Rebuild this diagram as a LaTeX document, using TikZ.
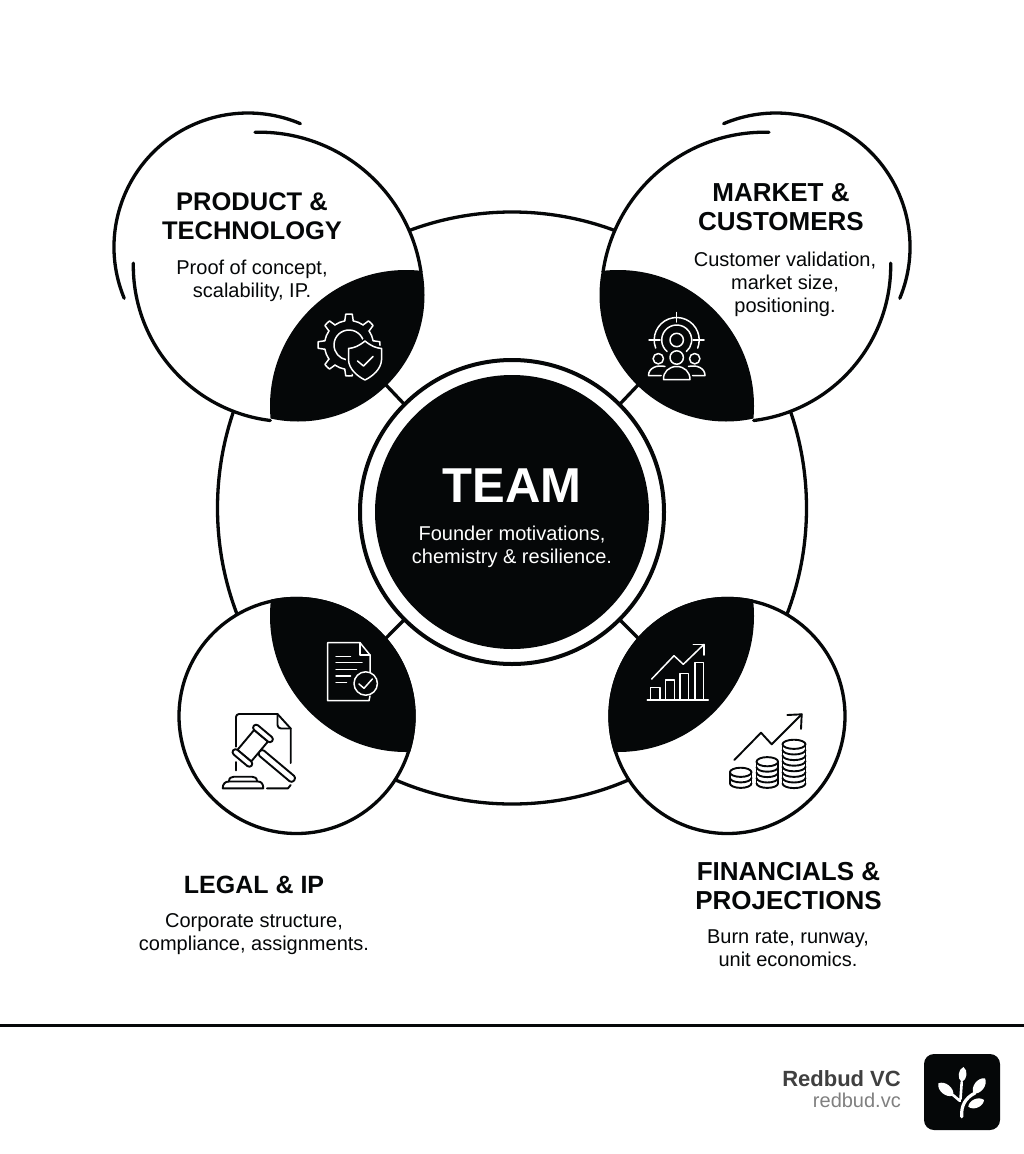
\documentclass[tikz,border=0pt]{standalone}
\usepackage{fontspec}
\setmainfont{Liberation Sans}
\definecolor{ink}{HTML}{050708}
\definecolor{logotext}{HTML}{404040}
\definecolor{logourl}{HTML}{808080}
\tikzset{
  outline/.style={draw=ink,line width=3.3,line cap=round},
  solidink/.style={fill=ink,draw=none},
  headbox/.style={text=ink,align=center,inner sep=0,font=\bfseries\fontsize{26}{29}\selectfont},
  bodybox/.style={text=ink,align=center,inner sep=0,font=\fontsize{20}{23}\selectfont},
  iconw/.style={draw=white,line width=1.5,line cap=round,line join=round},
  iconk/.style={draw=ink,line width=1.9,line cap=round,line join=round},
  disc/.style={circle,inner sep=0,outer sep=0},
}
\newcommand{\coinstack}[5]{%
  \draw[iconk] (#1-#3,#2) arc[start angle=180,end angle=540,x radius=#3,y radius=4.6];
  \foreach \i in {1,...,#4}{
    \draw[iconk] (#1-#3,#2+\i*#5) arc[start angle=180,end angle=0,x radius=#3,y radius=4.6];
  }
  \draw[iconk] (#1-#3,#2) -- (#1-#3,#2+#4*#5);
  \draw[iconk] (#1+#3,#2) -- (#1+#3,#2+#4*#5);
}
\newcommand{\leafshape}[4]{\fill[white] (#1,#2) to[bend left=62] (#3,#4) to[bend left=62] (#1,#2);}
\newcommand{\topbody}{%
  \fill[white] (259.3,295.6) ++(268.5:163.4) arc[start angle=268.5,end angle=351.7,radius=163.4] -- (424,300) -- (388,387) -- (327,422) -- (270,420.6) arc[start angle=97,end angle=180.9,radius=156] -- cycle;
  \draw[outline] (259.3,295.6) ++(268.5:163.4) arc[start angle=268.5,end angle=351.7,radius=163.4];
  \draw[outline] (289.3,265.65) ++(180.9:156) arc[start angle=180.9,end angle=97,radius=156];
  \draw[outline] (248,247) ++(157.5:134) arc[start angle=157.5,end angle=293,radius=134];
  \begin{scope}\clip (406,406) circle[radius=136];\fill[ink] (298,295) circle[radius=126.5];\end{scope}
}
\begin{document}
\begin{tikzpicture}[x=1pt,y=-1pt]
\useasboundingbox (0,0) rectangle (1024,1154);
\fill[white] (0,0) rectangle (1024,1154);

% large ring
\draw[outline] (512,508) ellipse[x radius=294.5,y radius=296];

% top circle bodies, outlines and lenses
\topbody
\begin{scope}[shift={(1024,0)},xscale=-1]\topbody\end{scope}

% lower circles
\node[disc,fill=white,draw=ink,line width=3.3,minimum size=235pt] (legal) at (296.5,716) {};
\node[disc,fill=white,draw=ink,line width=3.3,minimum size=235pt] (fin) at (727.5,716) {};

% team ring and disc
\node[disc,fill=white,draw=ink,line width=4,minimum size=304pt] (team) at (512,512) {};
\node[disc,solidink,minimum size=274pt] (teamdisc) at (512,512) {};

% spokes
\coordinate (pspoke) at (386,385);
\coordinate (mspoke) at (638,385);
\draw[outline,line cap=butt] (pspoke) -- (team.135);
\draw[outline,line cap=butt] (mspoke) -- (team.45);
\draw[outline,line cap=butt] (legal.41) -- (team.225);
\draw[outline,line cap=butt] (fin.139) -- (team.-45);

% lower lenses
\begin{scope}\clip (406,616) circle[radius=136];\fill[ink] (296.5,716) circle[radius=119.2];\end{scope}
\begin{scope}\clip (618,616) circle[radius=136];\fill[ink] (727.5,716) circle[radius=119.2];\end{scope}

% texts
\node[headbox,font=\bfseries\fontsize{25.5}{29}\selectfont] (prodhead) at (252,216) {PRODUCT \&\\TECHNOLOGY};
\node[bodybox] (prodbodytext) at (252,281) {Proof of concept,\\scalability, IP.};
\node[headbox] (mkthead) at (781,207) {MARKET \&\\CUSTOMERS};
\node[bodybox] (mktbodytext) at (785,284) {Customer validation,\\market size,\\positioning.};
\node[text=white,inner sep=0,font=\bfseries\fontsize{49}{55}\selectfont] (teamhead) at (512,486) {TEAM};
\node[bodybox,text=white] (teamtext) at (512,546.5) {Founder motivations,\\chemistry \& resilience.};
\node[headbox,font=\bfseries\fontsize{25}{29}\selectfont] (legalhead) at (254,885) {LEGAL \& IP};
\node[bodybox] (legaltext) at (254,934) {Corporate structure,\\compliance, assignments.};
\node[headbox] (finhead) at (788.5,886) {FINANCIALS \&\\PROJECTIONS};
\node[bodybox] (fintext) at (788,948.5) {Burn rate, runway,\\unit economics.};

% gear + shield icon
\begin{scope}[shift={(349,345)}]
  \foreach \a in {0,45,...,315}{
    \draw[iconw] (\a+10:24.5) arc[start angle=\a+10,end angle=\a+35,radius=24.5];
    \draw[iconw] (\a-10:24.5) -- (\a-6:31) arc[start angle=\a-6,end angle=\a+6,radius=31] -- (\a+10:24.5);
  }
  \draw[iconw] (-20:15) arc[start angle=-20,end angle=-280,radius=15];
\end{scope}
\draw[iconw,fill=ink,preaction={draw=ink,line width=5}] (365,341) .. controls (359,346) and (354,348) .. (348.5,348.5) -- (348.5,360) .. controls (349,369) and (357,376) .. (365,380) .. controls (373,376) and (381,369) .. (381.5,360) -- (381.5,348.5) .. controls (376,348) and (371,346) .. (365,341) -- cycle;
\draw[iconw] (357.5,361) -- (363.5,366) -- (373,356.5);

% target + people icon
\draw[iconw] (676.7,340) circle[radius=6.7];
\draw[iconw] (676.7,340) ++(130:15) arc[start angle=130,end angle=410,radius=15];
\draw[iconw] (676.7,340) ++(159:22.5) arc[start angle=159,end angle=381,radius=22.5];
\draw[iconw] (676.7,312.5) -- (676.7,322);
\draw[iconw] (649,340) -- (660,340);
\draw[iconw] (693,340) -- (704,340);
\draw[iconw] (676.7,357.5) circle[radius=6.7];
\draw[iconw] (663.5,379.5) .. controls (663,372) and (669,366.5) .. (676.7,366.5) .. controls (684.5,366.5) and (690,372) .. (690,379.5) -- cycle;
\draw[iconw] (658.3,358.7) circle[radius=5.2];
\draw[iconw] (694.7,358.7) circle[radius=5.2];
\draw[iconw] (665,366.5) .. controls (657,364.5) and (648.5,368) .. (648.5,375.5) -- (661,375.5);
\draw[iconw] (688.5,366.5) .. controls (696.5,364.5) and (705,368) .. (705,375.5) -- (692.5,375.5);

% document check icon
\draw[iconw] (370,672) -- (370,655) -- (360,642.7) -- (327.7,642.7) -- (327.7,700.7) -- (369,700.7) -- (370,696);
\draw[iconw] (360,642.7) -- (360,655) -- (370,655);
\draw[iconw] (336,656.7) -- (350.5,656.7);
\draw[iconw] (336,662.7) -- (362,662.7);
\draw[iconw] (336,669.3) -- (356.5,669.3);
\draw[iconw] (336,676) -- (350.5,676);
\draw[iconw] (336,682.3) -- (346.5,682.3);
\draw[iconw] (365.7,683.5) circle[radius=11.7];
\draw[iconw] (359,684) -- (364,688.3) -- (372.3,679);

% gavel icon
\draw[iconk] (236,746.7) -- (236,717) arc[start angle=180,end angle=270,radius=3] -- (277.5,714) -- (290.7,728.5) -- (290.7,763);
\draw[iconk] (236,762) -- (236,770.5);
\draw[iconk] (267,788.3) -- (288,788.3) -- (290.7,785);
\draw[iconk] (277.5,714) -- (277.5,725) arc[start angle=180,end angle=90,radius=3.5] -- (290.7,728.5);
\begin{scope}[shift={(252.7,745.7)},rotate=-40]
  \draw[iconk,fill=white,rounded corners=3] (9,-3.5) rectangle (54,3.5);
  \draw[iconk,fill=white] (-9,-13) rectangle (9,13);
  \draw[iconk,fill=white,rounded corners=3] (-12,-19) rectangle (12,-13);
  \draw[iconk,fill=white,rounded corners=3] (-12,13) rectangle (12,19);
\end{scope}
\draw[iconk,fill=white] (222.7,788.3) .. controls (222.7,784) and (225,781.5) .. (229,781.5) -- (258,781.5) .. controls (261.5,781.5) and (263.3,784) .. (263.3,788.3) -- cycle;
\draw[iconk] (229,781.5) .. controls (229,778) and (231,776.7) .. (234,776.7) -- (252,776.7) .. controls (255,776.7) and (257,778) .. (257,781.5);

% bar chart icon
\draw[iconw] (647.3,700) -- (708.3,700);
\draw[iconw] (650.7,700) -- (650.7,687.7) -- (660,687.7) -- (660,700);
\draw[iconw] (665.3,700) -- (665.3,680) -- (674.3,680) -- (674.3,700);
\draw[iconw] (680,700) -- (680,673.3) -- (688.7,673.3) -- (688.7,700);
\draw[iconw] (695,700) -- (695,662.7) -- (703.7,662.7) -- (703.7,700);
\draw[iconw] (651.7,679) -- (674,655.7) -- (683.3,664.3) -- (704,644.3);
\draw[iconw] (693.3,644.3) -- (704,644.3) -- (704,655);

% coins icon
\draw[iconk] (734.3,760) -- (761,732.7) -- (771.7,744.3) -- (801.7,714.3);
\draw[iconk] (787.3,715) -- (801.7,714.3) -- (801,729);
\coinstack{740.7}{772.3}{10.8}{2}{5.5}
\coinstack{767.3}{761.7}{10.8}{4}{5.4}
\coinstack{794}{744.3}{11.5}{7}{5.6}

% footer
\draw[ink,line width=3] (0,1025) -- (1024,1025);
\node[anchor=base east,inner sep=0,text=logotext,font=\bfseries\fontsize{22}{26}\selectfont] (brand) at (901,1086) {Redbud VC};
\node[anchor=base east,inner sep=0,text=logourl,font=\fontsize{20}{24}\selectfont] (brandurl) at (901,1107) {redbud.vc};
\fill[ink,rounded corners=10] (924,1054) rectangle (1000,1130);
\draw[white,line width=3.2,line cap=round] (961.7,1116.7) .. controls (961,1106) and (965,1098) .. (975,1093);
\draw[white,line width=2.6,line cap=round] (960,1101) -- (953,1095);
\draw[white,line width=2.6,line cap=round] (960.5,1099) -- (961.7,1082);
\leafshape{961.7}{1082}{963.5}{1067}
\leafshape{953.3}{1095.5}{938.3}{1083.3}
\leafshape{973.5}{1093.5}{985}{1078.3}
\leafshape{968.3}{1106.7}{984}{1100}
\end{tikzpicture}
\end{document}
